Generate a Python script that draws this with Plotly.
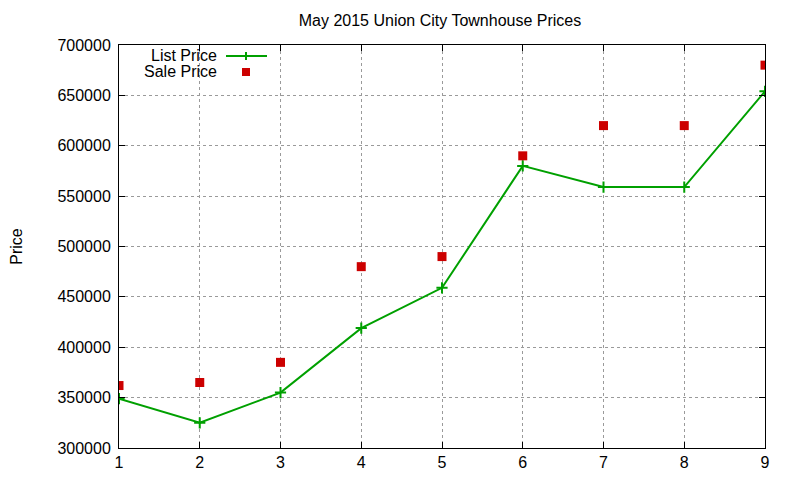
import plotly.graph_objects as go

# townhouse index and prices
houses = [1, 2, 3, 4, 5, 6, 7, 8, 9]
list_price = [349000, 325000, 355000, 419000, 459000, 580000, 559000, 559000, 654000]
sale_price = [362000, 365000, 385000, 480000, 490000, 590000, 620000, 620000, 680000]

green = '#00a000'
red = '#cc0000'
font = 'Liberation Sans, Arial, sans-serif'

fig = go.Figure()

fig.add_trace(go.Scatter(x=houses, y=list_price, mode='lines+markers', name='List Price',
                         line=dict(color=green, width=2),
                         marker=dict(symbol='cross-thin', size=8, line=dict(color=green, width=2))))

fig.add_trace(go.Scatter(x=houses, y=sale_price, mode='markers', name='Sale Price',
                         marker=dict(symbol='square', size=9, color=red)))

# the page body has an 8px margin, so the plot box 119..765 x 45..448 on screen
# becomes 111..757 x 37..440 inside the figure
def px_x(p):
    return (p - 119) / 646


def px_y(p):
    return (448 - p) / 403


# gnuplot-style key: text on the left, sample on the right
fig.add_annotation(x=px_x(219), y=px_y(55), xref='paper', yref='paper', text='List Price',
                   showarrow=False, xanchor='right', yanchor='middle',
                   font=dict(family=font, size=16, color='black'))
fig.add_annotation(x=px_x(219), y=px_y(72), xref='paper', yref='paper', text='Sale Price',
                   showarrow=False, xanchor='right', yanchor='middle',
                   font=dict(family=font, size=16, color='black'))
fig.add_shape(type='line', xref='paper', yref='paper', x0=px_x(226), x1=px_x(267), y0=px_y(56), y1=px_y(56),
              line=dict(color=green, width=2))
fig.add_shape(type='line', xref='paper', yref='paper', x0=px_x(246), x1=px_x(246), y0=px_y(52), y1=px_y(60),
              line=dict(color=green, width=2))
fig.add_shape(type='rect', xref='paper', yref='paper', x0=px_x(242), x1=px_x(250), y0=px_y(68), y1=px_y(76),
              line=dict(width=0), fillcolor=red)

axis_common = dict(showline=True, linecolor='black', linewidth=1, mirror='ticks',
                   ticks='inside', ticklen=6, tickcolor='black', automargin=False,
                   showgrid=True, gridcolor='#9a9a9a', griddash='dot', gridwidth=1,
                   zeroline=False, tickfont=dict(family=font, size=16, color='black'))

fig.update_xaxes(range=[1, 9], dtick=1, **axis_common)
fig.update_yaxes(range=[300000, 700000], dtick=50000, tickformat='d', ticklabelstandoff=4,
                 title=dict(text='Price', standoff=46, font=dict(family=font, size=16, color='black')),
                 **axis_common)

fig.update_layout(
    width=800, height=480,
    title=dict(text='May 2015 Union City Townhouse Prices', x=0.54, xanchor='center',
               y=0.975, yanchor='middle', automargin=False,
               font=dict(family=font, size=16, color='black')),
    showlegend=False,
    plot_bgcolor='white', paper_bgcolor='white',
    margin=dict(l=111, r=43, t=37, b=40, autoexpand=False),
)

fig.write_html("out.html")
